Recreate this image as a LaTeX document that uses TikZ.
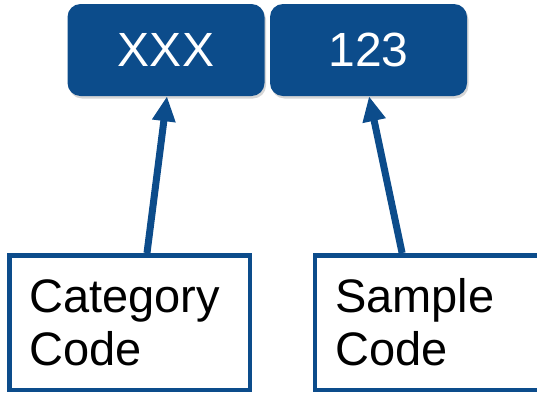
\documentclass[tikz,border=0pt]{standalone}
\usepackage{fontspec}
\setmainfont{Liberation Sans}
\usetikzlibrary{arrows.meta}
\definecolor{codeblue}{RGB}{12,76,139}
\begin{document}
\begin{tikzpicture}[x=1pt,y=-1pt,
  topbox/.style={fill=codeblue, rounded corners=13pt, minimum width=197pt, minimum height=92pt,
    inner sep=0pt, text=white, font=\fontsize{48pt}{48pt}\selectfont},
  shadowbox/.style={fill=black, opacity=0.16, rounded corners=13pt, minimum width=197pt, minimum height=92pt, inner sep=0pt},
  botbox/.style={draw=codeblue, line width=4.5pt, fill=white, inner sep=0pt, minimum height=134.5pt},
  label/.style={anchor=base west, inner sep=0pt, font=\fontsize{47pt}{47pt}\selectfont},
  pointer/.style={draw=codeblue, line width=7pt, -{Triangle[length=25pt,width=22pt]}}
]
\useasboundingbox (0,0) rectangle (537,392);
\clip (0,0) rectangle (537,392);
% shadows
\node[shadowbox] (xxxsh) at (167.5,52.5) {};
\node[shadowbox] (numsh) at (370,52.5) {};
% top boxes
\node[topbox] (xxx) at (166,50) {XXX};
\node[topbox] (num) at (368.5,50) {123};
% bottom boxes
\node[botbox, minimum width=240.5pt] (catbox) at (129.5,322.5) {};
\node[botbox, minimum width=223.75pt] (smpbox) at (427.1,322.5) {};
\node[label] (cat1) at (29,312) {Category};
\node[label] (cat2) at (29,365) {Code};
\node[label] (smp1) at (335,312) {Sample};
\node[label] (smp2) at (335,365) {Code};
% arrows
\coordinate (a1) at ([xshift=17.5pt]catbox.north);
\coordinate (t1) at ([xshift=1pt]xxx.south);
\coordinate (a2) at ([xshift=-25pt]smpbox.north);
\coordinate (t2) at ([xshift=0.5pt]num.south);
\draw[pointer] (a1) -- (t1);
\draw[pointer] (a2) -- (t2);
\end{tikzpicture}
\end{document}
